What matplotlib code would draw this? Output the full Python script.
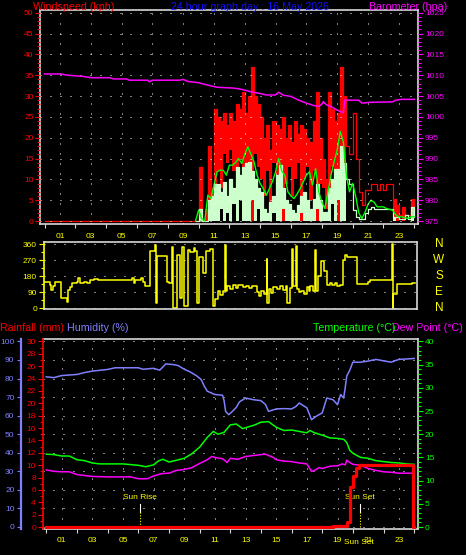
import matplotlib
matplotlib.use("Agg")
import matplotlib.pyplot as plt
import matplotlib.ticker as mticker
import matplotlib.transforms as mtrans
import numpy as np

W, H = 466, 555

# ---------------- data ----------------
# wind (kph): one sample at 00h, then every 0.2 h from 09.8 to 24.0
wind_hours = np.concatenate([[0.0], np.round(np.arange(9.8, 24.01, 0.2), 1)])
gust_hi = [0,
           0, 13, 0, 3, 18, 8,
           27, 25, 24, 26, 23,
           26, 24, 28, 27, 31,
           26, 30, 37, 30, 28,
           25, 20, 23, 17, 24,
           23, 22, 25, 20, 23,
           19, 24, 21, 23, 22,
           20, 19, 24, 31, 20,
           15, 10, 31, 27, 24,
           26, 37, 30, 18, 16,
           26, 15, 7, 3.8, 7.4,
           7.4, 9, 9, 7.4, 9,
           7.4, 9, 9, 5.4, 3.8,
           1.4, 3.4, 1.4, 1.4, 5.4,
           1.4]
gust_lo = [0,
           0, 0, 0, 0, 0, 0,
           0, 12, 8, 16, 14,
           17, 12, 0, 15, 0,
           0, 0, 0, 16, 13,
           10, 6, 12, 0, 14,
           0, 12, 0, 9, 13,
           6, 10, 14, 0, 10,
           13, 5, 12, 0, 9,
           8, 3, 0, 13, 10,
           0, 0, 14, 18, 16,
           26, 15, 7, 3.8, 7.4,
           7.4, 9, 9, 7.4, 9,
           7.4, 9, 9, 0, 0,
           1.4, 0, 1.4, 1.4, 0,
           1.4]
speed_hi = [0,
            0, 3, 0, 0, 5, 6,
            9, 9, 7, 9.4, 6,
            10, 8, 13, 11, 13,
            14, 14.2, 12, 10, 8,
            7, 3, 2, 4.6, 6,
            11, 13.4, 8, 5, 4,
            2.6, 2, 3.8, 6, 7,
            5, 3, 5.4, 9, 5,
            2.2, 2.2, 8, 10, 12.6,
            12.6, 18, 14, 10, 9,
            2.6, 1, 0.6, 0.6, 2,
            3, 3.4, 3, 3, 3,
            3, 3, 3, 1, 1,
            0.5, 0.5, 1.4, 0.5, 3.4,
            1]
speed_lo = [0,
            0, 0, 0, 0, 0, 0,
            0, 0, 3, 0, 2,
            0, 4, 0, 5, 0,
            0, 0, 5, 0, 3,
            0, 0, 0, 0, 2,
            0, 0, 3, 0, 0,
            0, 0, 0, 2, 0,
            0, 0, 0, 3, 0,
            0, 0, 0, 4, 0,
            5, 0, 0, 10, 9,
            2.6, 1, 0.6, 0.6, 2,
            3, 3.4, 3, 3, 3,
            3, 3, 3, 0, 1,
            0.5, 0.5, 1.4, 0.5, 0,
            1]
wind_avg = [0,
            0, 2.6, 0.6, 0, 6.2, 5.4,
            8.6, 11.8, 12.2, 12.2, 11,
            13.4, 13.4, 14, 15, 13.8,
            16, 17.8, 16, 14.2, 11,
            9, 7.8, 6.2, 7.8, 9.5,
            11.8, 15, 12, 11, 7,
            6, 5.4, 6.5, 7.8, 9.4,
            11, 11.8, 8.6, 12.6, 7,
            4.6, 3, 7, 11, 14.2,
            17, 21.5, 19, 11, 7,
            9, 6, 2, 0.6, 2,
            4, 5, 4.5, 3.4, 3.4,
            3.4, 3, 2.8, 2.6, 1.5,
            1, 1, 0.8, 0.6, 1,
            1]

# barometer (hPa)
baro_hours = [0.0, 1.0, 1.5, 2.5, 3.0, 4.2, 4.5, 5.3, 5.5, 6.7,
              6.8, 7.0, 8.8, 9.0, 9.3, 10.0, 10.5, 11.2, 12.3, 12.8,
              13.4, 14.0, 14.4, 15.0, 15.2, 15.5, 16.0, 16.5, 17.0, 17.5,
              17.8, 18.0, 18.1, 18.3, 18.7, 19.0, 19.4, 19.5, 20.4, 20.6,
              21.2, 22.6, 22.8, 23.2, 24.0]
baro = [1010.3, 1010.3, 1010.0, 1009.7, 1009.4, 1009.4, 1009.1, 1009.1, 1008.8, 1008.8,
        1008.4, 1008.8, 1008.8, 1009.0, 1008.5, 1008.2, 1007.7, 1007.1, 1006.9, 1006.6,
        1006.0, 1005.6, 1005.25, 1005.25, 1005.9, 1005.2, 1004.9, 1004.0, 1003.3, 1002.7,
        1002.5, 1003.0, 1003.65, 1002.9, 1002.3, 1001.6, 1001.0, 1004.0, 1004.0, 1003.3,
        1003.5, 1003.6, 1004.0, 1004.2, 1004.2]

# wind direction (degrees)
dir_hours = [0.0, 0.35, 0.45, 0.55, 0.7, 1.1, 1.45, 1.56, 1.7, 1.8,
             2.1, 2.2, 2.3, 2.6, 2.8, 3.0, 3.2, 3.5, 5.7, 5.8,
             5.9, 6.3, 6.4, 6.55, 6.85, 7.2, 7.25, 7.35, 7.95, 8.1,
             8.3, 8.38, 8.65, 8.8, 8.95, 9.05, 9.35, 9.5, 9.7, 9.8,
             9.9, 10.05, 10.3, 10.5, 10.8, 10.95, 11.1, 11.3, 11.45, 11.6,
             11.75, 11.8, 11.9, 12.1, 12.3, 12.45, 12.6, 12.9, 13.1, 13.3,
             13.5, 13.8, 13.95, 14.1, 14.3, 14.45, 14.5, 14.6, 14.75, 14.9,
             15.1, 15.3, 15.5, 15.7, 15.8, 15.95, 16.1, 16.15, 16.35, 16.4,
             16.55, 16.7, 16.9, 17.05, 17.2, 17.3, 17.45, 17.6, 17.65, 17.8,
             18.0, 18.2, 18.35, 18.55, 18.7, 18.9, 19.0, 19.2, 19.4, 19.55,
             19.7, 20.3, 21.05, 21.2, 22.6, 22.65, 22.7, 22.9, 23.9, 24.1]
dir_deg = [150, 130, 105, 125, 150, 56, 37, 105, 118, 145,
           150, 172, 145, 150, 140, 160, 165, 160, 170, 145,
           160, 172, 150, 128, 320, 358, 30, 292, 150, 140,
           345, 2, 302, 60, 342, 12, 330, 315, 340, 320,
           30, 290, 200, 320, 335, 12, 50, 100, 75, 95,
           358, 95, 125, 110, 130, 115, 130, 118, 125, 112,
           125, 90, 70, 100, 80, 275, 32, 110, 85, 120,
           110, 125, 105, 125, 30, 115, 335, 125, 350, 110,
           90, 100, 80, 120, 95, 125, 100, 330, 100, 180,
           265, 210, 130, 145, 130, 140, 125, 130, 270, 300,
           290, 135, 148, 158, 360, 0, 80, 135, 141, 141]

# temperature / dew point (deg C), humidity (%), rainfall (mm)
temp_hours = [0.0, 0.5, 1.0, 1.5, 2.0, 2.5, 3.0, 3.5, 5.0, 6.0,
              6.5, 7.0, 7.3, 7.6, 8.0, 8.5, 9.0, 9.5, 10.0, 10.5,
              10.9, 11.2, 11.6, 12.0, 12.4, 12.8, 13.2, 13.6, 14.0, 14.5,
              15.0, 15.5, 16.0, 16.5, 17.0, 17.2, 17.5, 18.0, 18.5, 19.0,
              19.4, 19.6, 19.8, 20.0, 20.5, 21.0, 21.5, 22.0, 22.5, 23.0,
              23.5, 24.0]
temp = [15.7, 15.6, 15.3, 15.3, 14.5, 14.3, 13.8, 13.6, 13.6, 13.3,
        13.0, 13.4, 14.2, 14.6, 14.0, 14.4, 14.8, 15.8, 17.2, 19.3,
        20.6, 20.0, 20.4, 22.0, 22.2, 21.2, 21.6, 22.0, 22.6, 22.7,
        21.5, 20.8, 20.9, 20.6, 20.3, 20.8, 20.3, 19.8, 19.2, 19.1,
        18.9, 18.2, 16.5, 15.9, 15.0, 14.8, 14.3, 14.1, 13.9, 13.8,
        13.6, 13.5]
dew_hours = [0.0, 0.5, 1.0, 1.5, 2.0, 2.5, 3.0, 4.0, 5.5, 6.0,
             6.6, 7.0, 7.5, 8.0, 8.5, 9.0, 9.5, 10.0, 10.5, 10.8,
             11.0, 11.5, 11.8, 12.0, 12.5, 13.0, 13.5, 14.0, 14.3, 14.8,
             15.0, 15.5, 16.0, 16.5, 17.0, 17.3, 17.5, 17.8, 18.0, 18.5,
             19.0, 19.3, 19.5, 19.6, 19.8, 20.0, 20.5, 21.0, 21.5, 22.0,
             22.5, 23.0, 24.0]
dew = [12.3, 12.0, 11.9, 11.9, 11.3, 11.1, 10.9, 10.8, 10.8, 10.4,
       10.4, 11.0, 11.5, 11.6, 12.2, 12.4, 12.8, 13.7, 14.5, 15.2,
       15.0, 14.7, 13.9, 14.8, 14.6, 15.2, 15.4, 15.6, 15.7, 15.0,
       14.5, 14.2, 14.1, 13.8, 13.6, 12.0, 12.2, 12.8, 12.6, 13.1,
       13.2, 13.6, 13.4, 14.4, 13.9, 13.5, 13.3, 12.6, 12.2, 11.9,
       11.8, 11.6, 11.6]
hum_hours = [0.0, 0.5, 1.0, 2.0, 2.6, 3.0, 4.0, 4.5, 6.0, 6.3,
             7.0, 7.4, 7.8, 8.3, 8.6, 9.0, 9.4, 9.8, 10.1, 10.3,
             10.5, 11.0, 11.5, 11.6, 11.7, 11.9, 12.1, 12.4, 12.6, 13.0,
             13.5, 14.0, 14.3, 14.5, 15.0, 15.5, 16.0, 16.3, 16.5, 17.0,
             17.2, 17.3, 17.6, 18.0, 18.3, 18.7, 19.0, 19.2, 19.4, 19.5,
             19.6, 19.8, 20.0, 20.5, 21.0, 21.5, 22.5, 23.0, 24.0]
hum = [80.9, 80.5, 81.6, 82.2, 83.4, 84.0, 84.9, 85.8, 85.8, 85.0,
       85.5, 84.5, 87.9, 87.5, 87.0, 85.0, 83.5, 81.5, 79.5, 76.0,
       73.2, 71.4, 71.0, 68.0, 62.3, 60.5, 62.0, 64.5, 67.4, 69.5,
       68.6, 68.1, 66.0, 62.3, 63.6, 63.8, 63.6, 65.0, 66.8, 64.2,
       60.0, 57.8, 59.6, 61.5, 69.5, 68.6, 65.9, 71.4, 69.5, 75.0,
       81.3, 84.5, 88.8, 88.8, 89.4, 90.3, 88.8, 90.3, 90.8]
rain_hours = [0.0, 18.7, 19.6, 19.82, 20.03, 20.2, 20.42, 23.9, 24.0]
rain = [0, 0.15, 0.86, 6.5, 8.2, 9.5, 10.05, 0, 0]

sun_rise, sun_set = 6.13, 20.48

# ---------------- style ----------------
RED, MAG, YEL, GRN = '#ff0000', '#ff00ff', '#ffff00', '#00ff00'
MINT, HUM, TITLE_BLUE, FRAME = '#ccffcc', '#8080ff', '#1010ff', '#d8d8d8'
dots = dict(color='white', lw=0.72, linestyle=(0, (1, 9)))

plt.rcParams['font.family'] = ['Liberation Sans', 'DejaVu Sans']

fig = plt.figure(figsize=(W / 100, H / 100), dpi=100, facecolor='black')


def box(l, t, r, b):
    # pixel box -> figure fraction
    return [l / W, 1 - b / H, (r - l) / W, (b - t) / H]


def ftext(x, y, s, color, ha='left', size=7.7):
    fig.text(x / W, 1 - y / H, s, color=color, ha=ha, va='baseline', fontsize=size)


def hour_axis(ax, pad):
    ax.xaxis.set_major_locator(mticker.FixedLocator(range(0, 25, 2)))
    ax.xaxis.set_minor_locator(mticker.FixedLocator(range(1, 24, 2)))
    ax.xaxis.set_major_formatter(mticker.NullFormatter())
    ax.xaxis.set_minor_formatter(mticker.FuncFormatter(lambda v, p: f"{int(round(v)):02d}"))
    ax.tick_params(axis='x', which='major', length=3, width=0.8, color=FRAME, direction='out')
    ax.tick_params(axis='x', which='minor', length=0, labelcolor=YEL, labelsize=6, pad=pad)
    ax.grid(which='minor', axis='x', **dots)


# ---------------- top: wind + barometer ----------------
ax1 = fig.add_axes(box(40, 10, 418, 224))
ax1.set_facecolor('black')
ax1.set_xlim(-0.30, 24.25)
ax1.set_ylim(-0.72, 50.65)
ax1.fill_between(wind_hours, gust_lo, gust_hi, step='post', color=RED, lw=0)
ax1.step(wind_hours, gust_hi, where='post', color=RED, lw=0.9)
ax1.fill_between(wind_hours[1:], speed_lo[1:], speed_hi[1:], step='post', color=MINT, lw=0)
ax1.step(wind_hours[1:], speed_hi[1:], where='post', color=MINT, lw=0.9)
ax1.plot(wind_hours[1:], wind_avg[1:], color=GRN, lw=1.0)
ax1.set_axisbelow(False)
ax1.yaxis.set_major_locator(mticker.MultipleLocator(5))
ax1.yaxis.set_minor_locator(mticker.MultipleLocator(1))
ax1.tick_params(axis='y', which='both', colors=RED, labelsize=6, direction='out', width=0.8)
ax1.tick_params(axis='y', which='major', length=3.6, pad=1)
ax1.tick_params(axis='y', which='minor', length=2)
ax1.grid(which='major', axis='y', **dots)
hour_axis(ax1, pad=6.2)
for s in ax1.spines.values():
    s.set_color(FRAME)
    s.set_linewidth(1.2)

ax1b = ax1.twinx()
ax1b.set_ylim(974.28, 1025.65)
ax1b.plot(baro_hours, baro, color=MAG, lw=1.1)
ax1b.yaxis.set_major_locator(mticker.MultipleLocator(5))
ax1b.yaxis.set_minor_locator(mticker.MultipleLocator(1))
ax1b.tick_params(axis='y', which='both', colors=MAG, labelsize=6, direction='out', width=0.8)
ax1b.tick_params(axis='y', which='major', length=3.6, pad=1.5)
ax1b.tick_params(axis='y', which='minor', length=2)
for s in ax1b.spines.values():
    s.set_visible(False)

ftext(33, 9.5, 'Windspeed (kph)', RED)
ftext(250, 9.5, '24 hour graph day : 16 May 2026', TITLE_BLUE, ha='center')
ftext(447, 9.5, 'Barometer (hpa)', MAG, ha='right')

# ---------------- middle: wind direction ----------------
ax2 = fig.add_axes(box(44, 242, 417, 309))
ax2.set_facecolor('black')
ax2.set_xlim(-0.02, 24.23)
ax2.set_ylim(-3.9, 372.9)
ax2.step(dir_hours, dir_deg, where='post', color=YEL, lw=1.1)
ax2.set_xticks([])
ax2.yaxis.set_major_locator(mticker.FixedLocator([0, 90, 180, 270, 360]))
ax2.yaxis.set_minor_locator(mticker.MultipleLocator(45))
ax2.tick_params(axis='y', which='both', colors=YEL, labelsize=6, direction='out', width=0.8)
ax2.tick_params(axis='y', which='major', length=3.6, pad=1.5)
ax2.tick_params(axis='y', which='minor', length=2)
ax2.grid(which='major', axis='y', **dots)
for s in ax2.spines.values():
    s.set_color(FRAME)
    s.set_linewidth(1.2)
ax2.spines['left'].set_color(YEL)
compass = mtrans.blended_transform_factory(ax2.transAxes, ax2.transData)
for lab, deg in zip(['N', 'W', 'S', 'E', 'N'], [360, 270, 180, 90, 0]):
    ax2.text(1.059, deg, lab, transform=compass, color=YEL, fontsize=8.5,
             ha='center', va='center', clip_on=False)

# ---------------- bottom: humidity / rain / temperature ----------------
ax3 = fig.add_axes(box(43, 339, 418, 529))
ax3.set_facecolor('black')
ax3.set_xlim(-0.215, 24.25)
ax3.set_ylim(-1.08, 101.3)
ax3.plot(hum_hours, hum, color=HUM, lw=1.1)
ax3.yaxis.set_major_locator(mticker.MultipleLocator(10))
ax3.tick_params(axis='y', which='major', colors=HUM, labelsize=6, direction='out',
                length=3.2, width=0.8, pad=1.5)
ax3.grid(which='major', axis='y', **dots)
hour_axis(ax3, pad=5.6)
for s in ax3.spines.values():
    s.set_color(FRAME)
    s.set_linewidth(1.2)
ax3.spines['left'].set_position(('outward', 22 * 0.72))
ax3.spines['left'].set_color(HUM)
ax3.spines['left'].set_linewidth(1.6)
ax3.set_zorder(1)

ax3t = ax3.twinx()
ax3t.set_ylim(-0.43, 40.52)
ax3t.plot(temp_hours, temp, color=GRN, lw=1.1)
ax3t.plot(dew_hours, dew, color=MAG, lw=1.1)
ax3t.yaxis.set_major_locator(mticker.MultipleLocator(5))
ax3t.yaxis.set_minor_locator(mticker.MultipleLocator(1))
ax3t.tick_params(axis='y', which='both', colors=GRN, labelsize=6, direction='out', width=0.8)
ax3t.tick_params(axis='y', which='major', length=3.6, pad=1.5)
ax3t.tick_params(axis='y', which='minor', length=2)
for s in ax3t.spines.values():
    s.set_visible(False)
for h, name in [(sun_rise, 'Sun Rise'), (sun_set, 'Sun Set')]:
    ax3t.plot([h, h], [3.3, 5.0], color='white', lw=0.8)
    ax3t.plot([h, h], [0, 3.3], color=YEL, lw=0.8, linestyle=(0, (1, 1.5)))
    ax3t.text(h - 0.05, 5.5, name, color=YEL, fontsize=6, ha='center', va='bottom')
ax3t.set_zorder(2)

ax3r = ax3.twinx()
ax3r.set_ylim(-0.32, 30.39)
ax3r.step(rain_hours, rain, where='post', color=RED, lw=2.3)
ax3r.yaxis.tick_left()
ax3r.yaxis.set_major_locator(mticker.MultipleLocator(2))
ax3r.yaxis.set_minor_locator(mticker.MultipleLocator(1))
ax3r.tick_params(axis='y', which='both', colors=RED, labelsize=6, direction='out', width=0.8)
ax3r.tick_params(axis='y', which='major', length=3.6, pad=1.5)
ax3r.tick_params(axis='y', which='minor', length=2)
for s in ax3r.spines.values():
    s.set_visible(False)
ax3r.spines['left'].set_visible(True)
ax3r.spines['left'].set_color(RED)
ax3r.spines['left'].set_linewidth(1.2)
ax3r.set_zorder(3)

row = mtrans.blended_transform_factory(ax3.transData, fig.transFigure)
ax3.text(sun_set - 0.1, 1 - 543.5 / H, 'Sun Set', transform=row, color=YEL,
         fontsize=6, ha='center', va='baseline', clip_on=False)

ftext(0, 331, 'Rainfall (mm)', RED)
ftext(67, 331, 'Humidity (%)', HUM)
ftext(313, 331, 'Temperature (°C)', GRN)
ftext(392, 331, 'Dew Point (°C)', MAG)

fig.savefig("out.png", dpi=100, facecolor='black')
